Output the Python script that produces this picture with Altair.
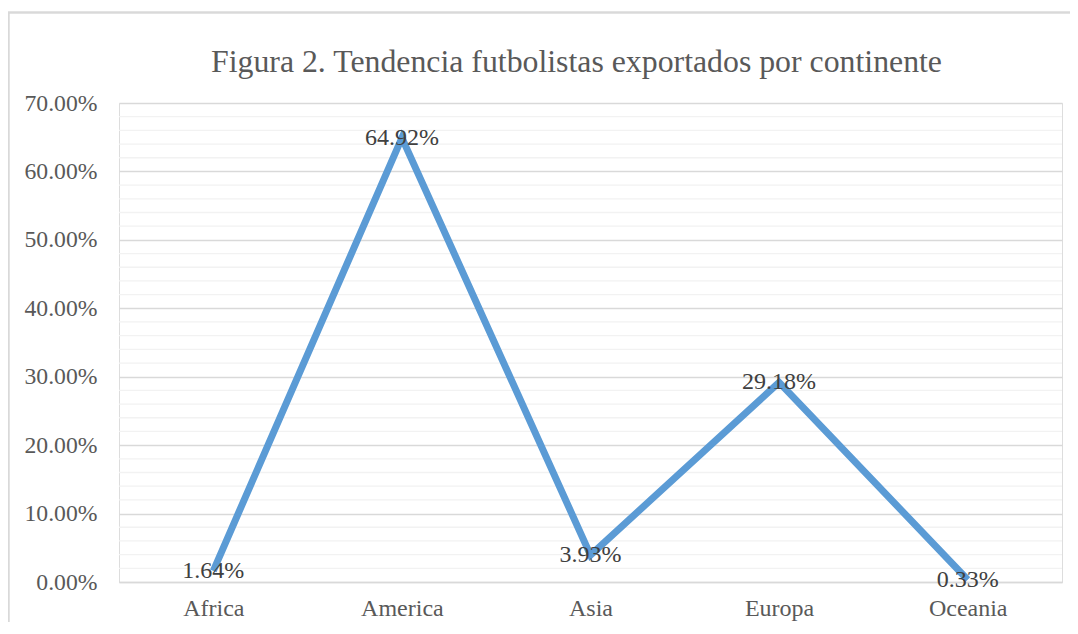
import altair as alt
import pandas as pd

continents = ["Africa", "America", "Asia", "Europa", "Oceania"]
shares = [1.64, 64.92, 3.93, 29.18, 0.33]
labels = ["1.64%", "64.92%", "3.93%", "29.18%", "0.33%"]
major_ticks = [0, 10, 20, 30, 40, 50, 60, 70]
minor_ticks = [v for v in range(0, 71, 2) if v % 10 != 0]
title_text = ["Figura 2. Tendencia futbolistas exportados por continente"]

df = pd.DataFrame({"cont": continents, "val": [s / 100 for s in shares], "lab": labels})
minor_df = pd.DataFrame({"v": [m / 100 for m in minor_ticks]})
title_df = pd.DataFrame({"t": title_text})

W, H = 943, 479
FONT = "Liberation Serif"

xscale = alt.Scale(type="point", padding=0.5)
yscale = alt.Scale(domain=[0, 0.7], nice=False)

yaxis = alt.Axis(values=[t / 100 for t in major_ticks], format=".2%", ticks=False,
                 domain=False, grid=True, gridColor="#d9d9d9", gridWidth=1.3,
                 labelFont=FONT, labelFontSize=23.7, labelColor="#595959",
                 labelPadding=22)
xaxis = alt.Axis(labelAngle=0, ticks=False, domain=True, domainColor="#d9d9d9",
                 domainWidth=1.3, labelFont=FONT, labelFontSize=24, labelColor="#595959",
                 labelPadding=14, grid=False)

minor = alt.Chart(minor_df).mark_rule(color="#f2f2f2", strokeWidth=1.3).encode(
    y=alt.Y("v:Q", scale=yscale, title=None, axis=yaxis)
)

line = alt.Chart(df).mark_line(color="#5B9BD5", strokeWidth=7, strokeJoin="miter").encode(
    x=alt.X("cont:N", sort=continents, title=None, scale=xscale, axis=xaxis),
    y=alt.Y("val:Q", scale=yscale, title=None, axis=yaxis),
)

text = alt.Chart(df).mark_text(font=FONT, fontSize=24, color="#404040", baseline="middle").encode(
    x=alt.X("cont:N", sort=continents, scale=xscale, title=None, axis=xaxis),
    y=alt.Y("val:Q", scale=yscale, title=None, axis=yaxis),
    text="lab:N",
)

title = alt.Chart(title_df).mark_text(font=FONT, fontSize=31.8, color="#595959",
                                      baseline="middle", align="center").encode(
    x=alt.value(W / 2 - 14), y=alt.value(-41), text="t:N"
)

border = alt.Chart(df).mark_rect(fill=None, stroke="#d9d9d9", strokeWidth=1.5, clip=False).encode(
    x=alt.value(-110.5), x2=alt.value(990), y=alt.value(-90.5), y2=alt.value(560)
)

chart = alt.layer(minor, line, text, title, border).properties(
    width=W, height=H,
    padding={"left": 111, "top": 95, "right": 8, "bottom": 40},
    autosize=alt.AutoSizeParams(type="none"),
).configure_view(strokeWidth=0).configure(background="white")

chart.save("out.html", embed_options={"renderer": "svg", "actions": False})
